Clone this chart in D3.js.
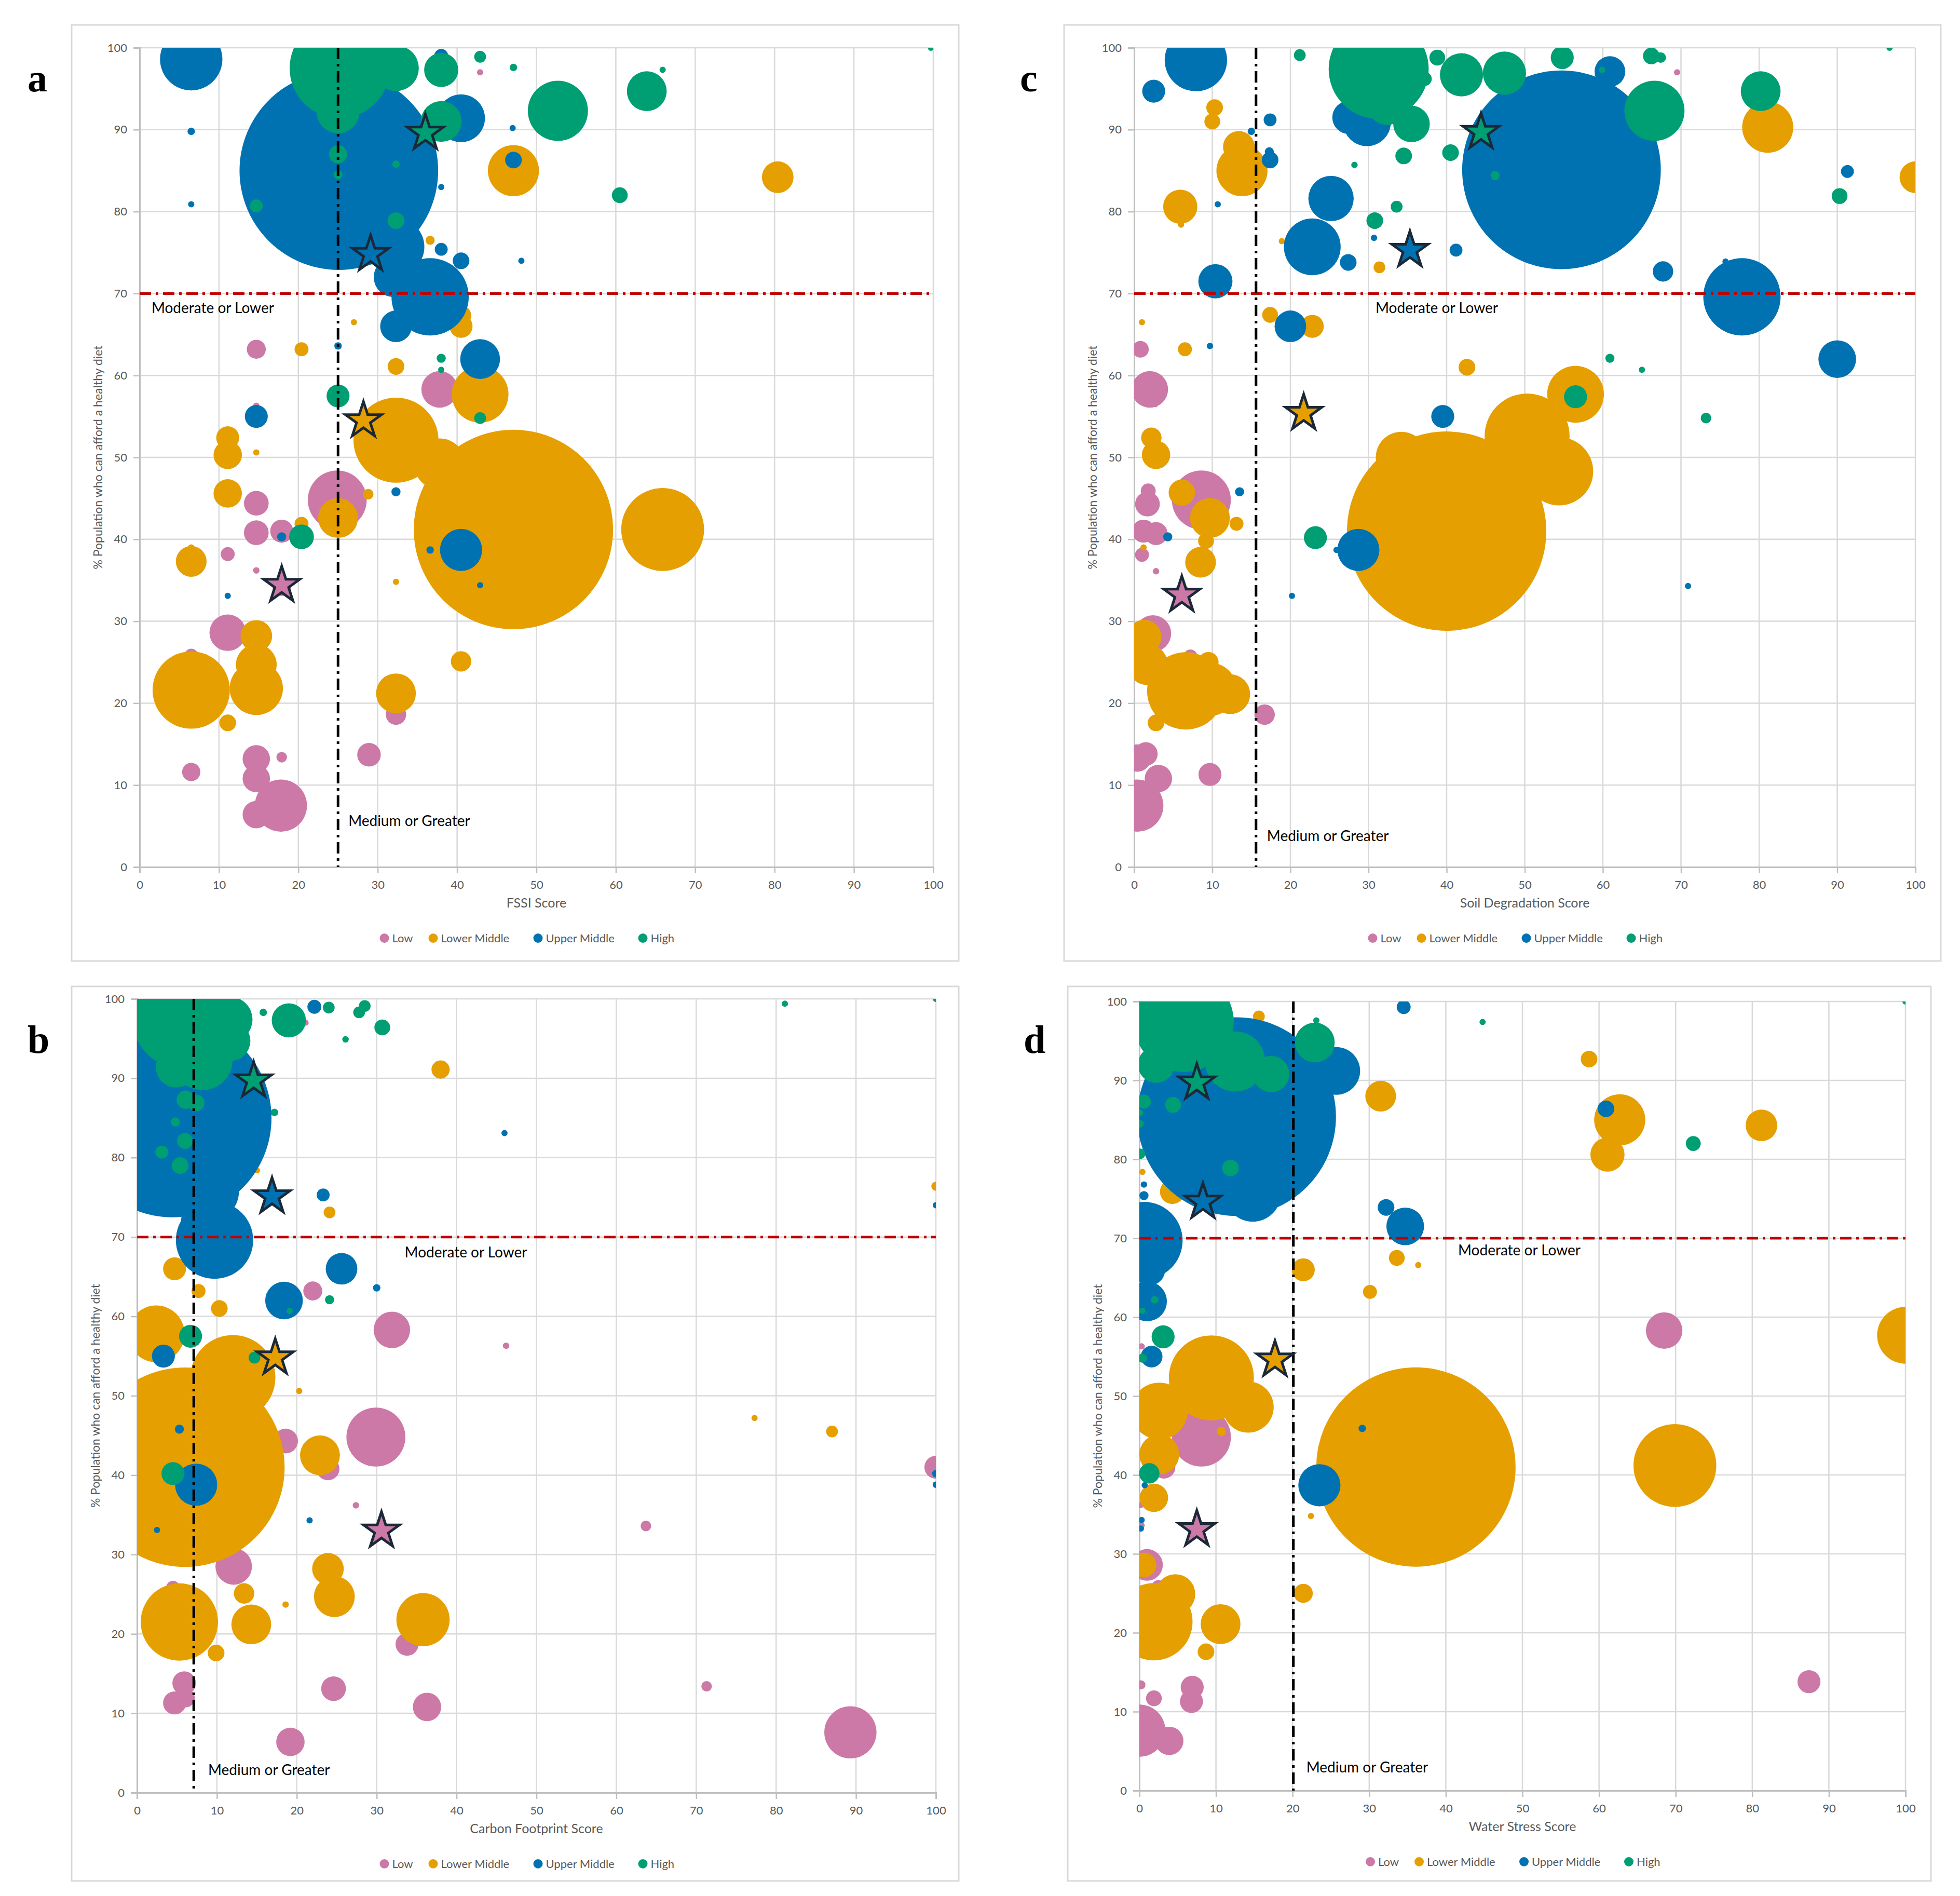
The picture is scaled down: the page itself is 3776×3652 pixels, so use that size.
<!DOCTYPE html>
<html lang="en">
<head>
<meta charset="UTF-8">
<title>Healthy diet affordability vs environmental scores</title>
<script src="https://d3js.org/d3.v7.min.js"></script>
<style>
  body { margin: 0; background: #fff; }
  text { font-family: Lato, "Open Sans", sans-serif; }
  text.letter { font-family: "Liberation Serif", "DejaVu Serif", serif; font-weight: bold; }
</style>
</head>
<body>
<svg id="chart" width="3776" height="3652"></svg>
<script>
// groups: 0 Low, 1 Lower Middle, 2 Upper Middle, 3 High
const groups = ["Low", "Lower Middle", "Upper Middle", "High"];
const groupColors = ["#CC79A7", "#E69F00", "#0072B2", "#009E73"];
const ticks = [0, 10, 20, 30, 40, 50, 60, 70, 80, 90, 100];
const yTitle = "% Population who can afford a healthy diet";

// [score, % population, population (millions), group]
const fssiPoints = [
  [25.1,85,1420,2],[6.5,98.6,140,2],[6.5,89.8,2,2],[6.5,80.9,1,2],[38,99,7,2],[40.5,91.4,82,2],
  [47.1,86.3,10,2],[38,83,0.5,2],[48.1,74,0.6,2],[38,75.4,6,2],[40.5,74,10,2],[32.3,75.7,116,2],
  [32,72,57,2],[36.6,69.6,215,2],[32.3,66,36,2],[42.9,62,57,2],[25,63.6,2,2],[14.7,55,19,2],
  [32.3,45.8,3,2],[17.9,40.3,3,2],[40.5,38.7,64,2],[36.6,38.7,2,2],[42.9,34.4,0.5,2],[11.1,33.1,0.8,2],[47,90.2,0.3,2],
  [25.2,97.5,360,3],[25,92.2,67,3],[32.3,97.5,75,3],[38,97.3,42,3],[42.9,98.9,5,3],[47.1,97.6,2,3],
  [65.9,97.3,1,3],[99.7,100,1,3],[52.7,92.3,130,3],[63.9,94.7,57,3],[38,91,60,3],[25,87,12,3],
  [25,84.5,3,3],[32.3,85.8,2,3],[14.7,80.7,6,3],[60.5,82,9,3],[32.3,78.9,10,3],[38,62.1,3,3],
  [38,60.7,1,3],[25,57.5,19,3],[42.9,54.8,5,3],[20.4,40.3,22,3],
  [47.1,41.2,1430,1],[65.9,41.2,247,1],[32.3,52.1,260,1],[37.8,49.2,94,1],[42.9,57.7,116,1],
  [47.1,85,94,1],[80.4,84.2,36,1],[38,92.6,7,1],[36.6,76.5,3,1],[40.5,66,19,1],[40.5,67.3,15,1],
  [27,66.5,0.5,1],[20.4,63.2,7,1],[32.3,61.1,10,1],[11.1,52.4,19,1],[11.1,50.3,29,1],[14.7,50.6,0.3,1],
  [11.1,45.6,29,1],[25,42.6,57,1],[20.4,41.9,7,1],[6.5,37.3,34,1],[6.5,39,1,1],[32.3,34.8,1,1],
  [14.7,28.2,36,1],[14.7,24.7,60,1],[6.5,21.6,215,1],[14.7,21.8,102,1],[11.1,17.6,10,1],
  [32.3,21.2,57,1],[40.5,25.1,15,1],[28.8,45.5,4,1],
  [24.9,44.8,125,0],[37.8,58.3,48,0],[14.7,63.2,13,0],[14.7,56.3,1,0],[14.7,44.4,22,0],[14.7,40.8,22,0],
  [17.9,41,19,0],[11.1,38.2,7,0],[14.7,36.2,1.5,0],[17.9,34.2,12,0],[11.1,28.6,48,0],[6.5,25.8,7,0],
  [32.3,18.6,15,0],[28.9,13.7,20,0],[14.7,13.2,27,0],[17.9,13.4,4,0],[6.5,11.6,12,0],[14.7,10.8,27,0],
  [17.8,7.5,98,0],[14.7,6.4,27,0],[42.9,97,0.4,0]
];
const fssiStars = [[36,89.6,3],[29.1,74.8,2],[28.2,54.5,1],[17.9,34.4,0]];

const soilPoints = [
  [54.7,85.1,1420,2],[7.9,98.5,140,2],[2.5,94.7,19,2],[60.9,97.1,34,2],[29.8,90.9,82,2],[27.5,91.5,40,2],
  [17.4,91.2,6,2],[15,89.8,2,2],[17.4,86.3,10,2],[17.3,87.3,3,2],[10.7,80.9,1,2],[25.2,81.6,74,2],
  [22.8,75.7,116,2],[27.4,73.8,10,2],[30.7,76.8,1.5,2],[41.2,75.3,6,2],[67.7,72.7,15,2],[77.8,69.6,215,2],
  [10.4,71.5,42,2],[20,66,36,2],[9.7,63.6,1.5,2],[90,62,51,2],[39.5,55,19,2],[13.5,45.8,3,2],
  [4.3,40.3,3,2],[28.7,38.7,64,2],[25.9,38.7,1,2],[70.9,34.3,0.4,2],[20.2,33.1,0.6,2],[91.3,84.9,6,2],[75.7,73.9,0.4,2],
  [31.3,97.4,360,3],[32.4,93,57,3],[35.5,90.7,48,3],[41.9,96.7,67,3],[47.4,96.9,67,3],[66.6,92.3,130,3],
  [80.2,94.7,57,3],[38.8,98.8,9,3],[54.8,98.8,19,3],[66.2,99,10,3],[67.4,98.8,4,3],[21.2,99.1,5,3],
  [96.7,100,1,3],[37.2,96.2,7,3],[34.5,86.8,10,3],[40.5,87.2,10,3],[46.2,84.4,3,3],[28.2,85.7,1.5,3],
  [33.6,80.6,5,3],[30.8,78.9,10,3],[90.3,81.9,9,3],[60.9,62.1,3,3],[65,60.7,1,3],[56.5,57.4,19,3],
  [73.2,54.8,4,3],[23.2,40.2,19,3],[59.9,97.3,0.6,3],
  [40,41,1430,1],[50.3,52.6,260,1],[54.4,48.3,167,1],[34.2,50,94,1],[56.5,57.7,116,1],[81.1,90.3,94,1],
  [100,84.2,36,1],[13.8,85,94,1],[13.4,87.9,36,1],[10.3,92.7,10,1],[10,91,9,1],[5.9,80.6,42,1],
  [6,78.4,0.6,1],[18.9,76.4,0.5,1],[31.4,73.2,5,1],[17.4,67.4,9,1],[22.8,66,19,1],[1,66.5,0.4,1],
  [6.5,63.2,7,1],[42.6,61,10,1],[2.2,52.4,15,1],[2.8,50.3,29,1],[6.1,45.7,25,1],[9.7,42.6,57,1],
  [13.1,41.9,7,1],[9.2,39.8,9,1],[8.5,37.2,34,1],[1.2,39,0.6,1],[1.3,28.1,42,1],[1.7,24.7,60,1],
  [6.6,21.5,215,1],[9.7,21.7,102,1],[2.8,17.6,10,1],[12.3,21.1,57,1],[9.5,25,15,1],
  [8.6,44.8,125,0],[2,58.3,48,0],[0.8,63.2,10,0],[2.7,56.5,1,0],[1.7,44.3,22,0],[1.8,45.9,8,0],
  [1.2,41,19,0],[2.8,40.7,19,0],[1,38.1,7,0],[2.8,36.1,1.5,0],[6.1,33.4,10,0],[2.4,28.5,48,0],
  [7.2,25.7,7,0],[16.7,18.6,15,0],[1.5,13.8,20,0],[0.4,13.3,27,0],[9.7,11.3,19,0],[3.1,10.8,27,0],
  [0.4,7.5,98,0],[0.4,6.4,27,0],[69.5,97,0.4,0]
];
const soilStars = [[44.4,89.7,3],[35.3,75.3,2],[21.7,55.4,1],[6.1,33.2,0]];

const carbonPoints = [
  [4.4,85,1420,2],[2,98.6,140,2],[9.7,69.6,215,2],[9.2,75.7,116,2],[8,72,57,2],[18.4,62,51,2],
  [25.6,66,36,2],[23.3,75.3,6,2],[22.2,99,7,2],[3.3,55,19,2],[5.3,45.8,3,2],[7.4,38.8,64,2],
  [2.5,33.1,0.8,2],[21.6,34.3,0.5,2],[30,63.6,2,2],[46,83.1,0.6,2],[100,74,0.5,2],[100,40.2,2,2],
  [100,38.8,1.5,2],[10,91.4,82,2],[6,86.3,10,2],
  [5.7,97.5,360,3],[8.2,92.3,130,3],[11.6,97.4,75,3],[8.5,95,67,3],[19,97.3,42,3],[11.7,94.7,57,3],
  [4.9,91.4,60,3],[24,98.9,5,3],[28.5,99.1,5,3],[27.8,98.3,5,3],[15.8,98.3,2,3],[26.1,94.9,1.5,3],
  [30.7,96.4,9,3],[81.1,99.4,0.4,3],[100,100,1,3],[14.7,91,2,3],[6.1,87.3,12,3],[7.4,86.9,10,3],
  [17.2,85.7,2,3],[4.8,84.5,3,3],[6,82.1,9,3],[3.1,80.7,6,3],[5.4,79,10,3],[6.7,57.5,19,3],
  [24.1,62.1,3,3],[19.1,60.7,1,3],[14.7,54.8,5,3],[4.5,40.2,19,3],
  [6,41,1430,1],[12,52.3,260,1],[4,41.2,247,1],[2.4,57.8,116,1],[10,49.2,94,1],[4.7,66,19,1],
  [7.7,63.2,7,1],[10.3,61,10,1],[38,91.1,12,1],[24.1,73.1,5,1],[15,78.4,0.5,1],[100,76.4,3,1],
  [20.3,50.6,0.3,1],[77.3,47.2,1,1],[87,45.5,5,1],[22.9,42.5,57,1],[23.9,28.2,36,1],[24.7,24.7,60,1],
  [5.3,21.5,215,1],[14.3,21.2,57,1],[35.8,21.8,102,1],[13.4,25.1,15,1],[9.9,17.6,10,1],[18.6,23.7,1.5,1],
  [8,85,94,1],[10.3,75.2,3,1],
  [29.9,44.8,125,0],[89.3,7.6,98,0],[31.9,58.3,48,0],[22,63.2,13,0],[46.2,56.3,1.5,0],[18.6,44.3,22,0],
  [23.9,40.8,19,0],[100,41,19,0],[27.4,36.2,1.5,0],[63.7,33.6,4,0],[30.6,33,8,0],[12.1,28.5,48,0],
  [4.5,25.8,7,0],[33.8,18.7,19,0],[71.3,13.4,4,0],[5.9,13.8,20,0],[6.1,11.9,12,0],[4.7,11.3,19,0],
  [24.6,13.1,22,0],[36.3,10.8,29,0],[19.2,6.4,29,0],[21.1,97,0.4,0]
];
const carbonStars = [[14.6,89.7,3],[16.9,75.1,2],[17.3,54.8,1],[30.6,33,0]];

const waterPoints = [
  [12.7,85.4,1420,2],[1,98.6,140,2],[0.6,69.7,215,2],[14.8,75.7,116,2],[1.3,66,36,2],[1,62,57,2],
  [1.6,55,17,2],[23.5,38.7,64,2],[25.7,91.2,82,2],[34.5,99.3,7,2],[32.2,73.9,10,2],[34.7,71.5,51,2],
  [60.9,86.4,10,2],[29.1,45.9,2,2],[0.6,76.8,1.5,2],[0.6,75.4,3,2],[0.7,38.7,1,2],[0.3,34.3,0.5,2],[0.2,33.2,0.6,2],
  [5.8,97.4,360,3],[12.5,92.4,130,3],[17.2,90.8,48,3],[22.9,94.8,57,3],[2.2,92,48,3],[8.8,95.9,67,3],
  [23.1,97.6,1,3],[44.8,97.4,0.4,3],[100,100,1,3],[0.6,87.3,7,3],[4.4,86.9,9,3],[0.1,84.5,2,3],
  [0.1,85.9,1.5,3],[0.1,80.7,4,3],[11.9,78.9,10,3],[72.3,82,8,3],[2,62.2,2,3],[0.4,60.8,1,3],
  [3.1,57.5,19,3],[0.4,54.8,3,3],[1.3,40.2,15,3],
  [36.1,41,1430,1],[69.9,41.2,247,1],[100,57.7,116,1],[9.4,52.3,260,1],[14.2,48.6,94,1],[2.6,48.1,116,1],
  [2.6,42.6,57,1],[1.9,37.1,29,1],[0.6,28.6,22,1],[1.9,21.4,215,1],[4.7,24.9,57,1],[10.6,21.1,57,1],
  [8.7,17.6,10,1],[21.4,25,13,1],[21.4,66,19,1],[22.4,34.8,0.6,1],[30.1,63.2,7,1],[33.6,67.5,9,1],
  [36.4,66.6,0.3,1],[31.5,88,34,1],[58.7,92.7,10,1],[62.7,85,94,1],[61.1,80.6,42,1],[81.2,84.3,36,1],
  [15.6,98.1,5,1],[4.3,75.9,22,1],[10.7,45.5,3,1],[0.4,78.4,0.4,1],
  [8.1,44.8,125,0],[68.5,58.3,48,0],[87.4,13.8,19,0],[3.2,41,19,0],[0.3,56.3,1,0],[0.2,13.4,3,0],
  [6.9,13.1,19,0],[6.8,11.3,19,0],[1.9,11.7,9,0],[1,28.6,36,0],[0,7.6,98,0],[3.9,6.3,29,0],
  [0.2,33.6,2,0],[0.2,36.2,1,0],[2.5,25.8,7,0]
];
const waterStars = [[7.5,89.7,3],[8.3,74.6,2],[17.7,54.6,1],[7.5,33.1,0]];

const panels = [
  { letter: "a", title: "FSSI Score", points: fssiPoints, stars: fssiStars, vLine: 25,
    frame: [138, 48, 1847, 1851], plot: [269, 92, 1798, 1670],
    modLabel: [1.5, 67.6], medLabel: [26.3, 5] },
  { letter: "c", title: "Soil Degradation Score", points: soilPoints, stars: soilStars, vLine: 15.6,
    frame: [2050, 48, 3739, 1851], plot: [2185, 92, 3690, 1670],
    modLabel: [30.9, 67.6], medLabel: [17, 3.2] },
  { letter: "b", title: "Carbon Footprint Score", points: carbonPoints, stars: carbonStars, vLine: 7.1,
    frame: [138, 1900, 1847, 3623], plot: [264, 1924, 1803, 3453],
    modLabel: [33.5, 67.4], medLabel: [8.9, 2.2] },
  { letter: "d", title: "Water Stress Score", points: waterPoints, stars: waterStars, vLine: 20.1,
    frame: [2057, 1900, 3720, 3623], plot: [2195, 1929, 3671, 3449],
    modLabel: [41.6, 67.8], medLabel: [21.8, 2.3] }
];

const svg = d3.select("#chart");
const rScale = d3.scaleSqrt().domain([0, 1430]).range([0, 192]);

panels.forEach((p, pi) => {
  const [fx0, fy0, fx1, fy1] = p.frame;
  const [px0, py0, px1, py1] = p.plot;
  const g = svg.append("g");

  g.append("rect").attr("x", fx0).attr("y", fy0)
    .attr("width", fx1 - fx0).attr("height", fy1 - fy0)
    .attr("fill", "#fff").attr("stroke", "#d9d9d9").attr("stroke-width", 3);

  g.append("text").attr("class", "letter").attr("x", fx0 - 85).attr("y", fy0 + 128)
    .attr("font-size", 76).attr("fill", "#000")
    .text(p.letter);

  const x = d3.scaleLinear().domain([0, 100]).range([px0, px1]);
  const y = d3.scaleLinear().domain([0, 100]).range([py1, py0]);

  // gridlines
  g.append("g").selectAll("line").data(ticks.slice(1)).join("line")
    .attr("x1", d => x(d)).attr("x2", d => x(d)).attr("y1", py0).attr("y2", py1)
    .attr("stroke", "#d9d9d9").attr("stroke-width", 2.5);
  g.append("g").selectAll("line").data(ticks.slice(1)).join("line")
    .attr("x1", px0).attr("x2", px1).attr("y1", d => y(d)).attr("y2", d => y(d))
    .attr("stroke", "#d9d9d9").attr("stroke-width", 2.5);

  const xAxis = g.append("g").attr("transform", `translate(0,${py1})`)
    .call(d3.axisBottom(x).tickValues(ticks).tickSize(12).tickPadding(14));
  const yAxis = g.append("g").attr("transform", `translate(${px0},0)`)
    .call(d3.axisLeft(y).tickValues(ticks).tickSize(12).tickPadding(12));
  [xAxis, yAxis].forEach(ax => {
    ax.select(".domain").attr("stroke", "#bfbfbf").attr("stroke-width", 3);
    ax.selectAll(".tick line").attr("stroke", "#bfbfbf").attr("stroke-width", 2.5);
    ax.selectAll(".tick text").attr("font-size", 22).attr("fill", "#595959")
      .style("font-family", "Lato, sans-serif");
  });

  g.append("text").attr("x", (px0 + px1) / 2).attr("y", py1 + 78)
    .attr("text-anchor", "middle").attr("font-size", 25).attr("fill", "#595959")
    .text(p.title);
  g.append("text")
    .attr("transform", `translate(${px0 - 72},${(py0 + py1) / 2}) rotate(-90)`)
    .attr("text-anchor", "middle").attr("font-size", 23).attr("fill", "#595959")
    .text(yTitle);

  // bubbles, clipped to plot area
  const clipId = "clip" + pi;
  svg.append("clipPath").attr("id", clipId).append("rect")
    .attr("x", px0).attr("y", py0).attr("width", px1 - px0).attr("height", py1 - py0);
  const marks = g.append("g").attr("clip-path", `url(#${clipId})`);
  const ordered = p.points.slice().sort((a, b) => (a[3] - b[3]) || (b[2] - a[2]));
  marks.selectAll("circle").data(ordered).join("circle")
    .attr("cx", d => x(d[0])).attr("cy", d => y(d[1]))
    .attr("r", d => Math.max(6, rScale(d[2])))
    .attr("fill", d => groupColors[d[3]]);

  // reference lines
  g.append("line").attr("x1", px0).attr("x2", px1).attr("y1", y(70)).attr("y2", y(70))
    .attr("stroke", "#c00000").attr("stroke-width", 5).attr("stroke-dasharray", "22,9,5,9");
  g.append("line").attr("x1", x(p.vLine)).attr("x2", x(p.vLine)).attr("y1", py0).attr("y2", py1)
    .attr("stroke", "#000").attr("stroke-width", 5).attr("stroke-dasharray", "22,9,5,9");

  g.append("text").attr("x", x(p.modLabel[0])).attr("y", y(p.modLabel[1]))
    .attr("font-size", 28).attr("fill", "#000").text("Moderate or Lower");
  g.append("text").attr("x", x(p.medLabel[0])).attr("y", y(p.medLabel[1]))
    .attr("font-size", 28).attr("fill", "#000").text("Medium or Greater");

  // stars
  g.append("g").selectAll("path").data(p.stars).join("path")
    .attr("d", d3.symbol().type(d3.symbolStar).size(1500))
    .attr("transform", d => `translate(${x(d[0])},${y(d[1])})`)
    .attr("fill", d => groupColors[d[2]])
    .attr("stroke", "#1b2838").attr("stroke-width", 5).attr("stroke-linejoin", "miter");

  // legend
  const legY = py1 + 145;
  const widths = groups.map(s => 30 + s.length * 12 + 28);
  const total = d3.sum(widths);
  let lx = (px0 + px1) / 2 - total / 2;
  groups.forEach((s, i) => {
    g.append("circle").attr("cx", lx + 9).attr("cy", legY - 8).attr("r", 9).attr("fill", groupColors[i]);
    g.append("text").attr("x", lx + 24).attr("y", legY).attr("font-size", 22)
      .attr("fill", "#595959").text(s);
    lx += widths[i];
  });
});
</script>
</body>
</html>
